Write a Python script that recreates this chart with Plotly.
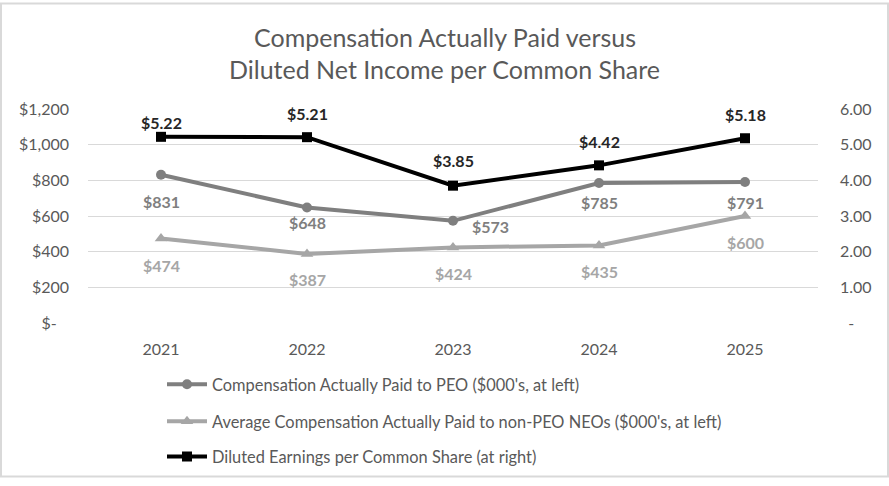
import plotly.graph_objects as go

years = ["2021", "2022", "2023", "2024", "2025"]
peo_cap = [831, 648, 573, 785, 791]
neo_cap = [474, 387, 424, 435, 600]
eps = [5.22, 5.21, 3.85, 4.42, 5.18]

left_ticks = [0, 200, 400, 600, 800, 1000, 1200]
left_text = ["$-   ", "$200", "$400", "$600", "$800", "$1,000", "$1,200"]
right_ticks = [0, 1, 2, 3, 4, 5, 6]
right_text = ["  -", "1.00", "2.00", "3.00", "4.00", "5.00", "6.00"]

# label offsets (pixels) as placed in the reference
eps_shift = [14, 24, 25, 24, 24]
peo_shift = [-27, -15, -6, -19, -21]
peo_xshift = [0, 0, 37, 0, 0]
neo_shift = [-27, -26, -26, -26, -26]

FONT = "Lato, Calibri, sans-serif"
C_PEO = "#7f7f7f"
C_NEO = "#a6a6a6"
C_EPS = "#000000"
C_TXT = "#595959"

fig = go.Figure()
fig.add_trace(go.Scatter(
    x=years, y=peo_cap, mode="lines+markers", name="Compensation Actually Paid to PEO ($000's, at left)",
    line=dict(color=C_PEO, width=4), marker=dict(symbol="circle", size=10, color=C_PEO),
    legend="legend"))
fig.add_trace(go.Scatter(
    x=years, y=neo_cap, mode="lines+markers",
    name="Average Compensation Actually Paid to non-PEO NEOs ($000's, at left)",
    line=dict(color=C_NEO, width=4), marker=dict(symbol="triangle-up", size=11, color=C_NEO),
    legend="legend2"))
fig.add_trace(go.Scatter(
    x=years, y=eps, mode="lines+markers", name="Diluted Earnings per Common Share (at right)",
    line=dict(color=C_EPS, width=4), marker=dict(symbol="square", size=10, color=C_EPS),
    yaxis="y2", legend="legend3"))

ann = []
for i, y in enumerate(years):
    ann.append(dict(x=i, xref="x", y=eps[i], yref="y2", text="<b>$%.2f</b>" % eps[i], showarrow=False,
                    yshift=eps_shift[i], font=dict(size=16, color="#262626", family=FONT)))
    ann.append(dict(x=i, xref="x", y=peo_cap[i], yref="y", text="<b>$%d</b>" % peo_cap[i], showarrow=False,
                    yshift=peo_shift[i], xshift=peo_xshift[i], font=dict(size=16, color=C_PEO, family=FONT)))
    ann.append(dict(x=i, xref="x", y=neo_cap[i], yref="y", text="<b>$%d</b>" % neo_cap[i], showarrow=False,
                    yshift=neo_shift[i], font=dict(size=16, color=C_NEO, family=FONT)))

W, H = 889, 486
L, R, T, B = 88, 71, 109, 158
pw, ph = W - L - R, H - T - B

def px(x):
    return (x - L) / pw

def py(y):
    return (H - B - y) / ph

for ty, tt in [(35, "Compensation Actually Paid versus"), (68, "Diluted Net Income per Common Share")]:
    ann.append(dict(xref="paper", yref="paper", x=px(444.5), y=py(ty), xanchor="center", yanchor="middle",
                    text=tt, showarrow=False, font=dict(size=25, color=C_TXT, family=FONT)))

legfont = dict(size=16.4, color=C_TXT, family=FONT)
def leg(ycen):
    return dict(x=px(162), y=py(ycen), xanchor="left", yanchor="middle", font=legfont,
                bgcolor="rgba(0,0,0,0)", itemwidth=40)

fig.update_layout(
    width=W, height=H, margin=dict(l=L, r=R, t=T, b=B),
    paper_bgcolor="white", plot_bgcolor="white",
    font=dict(family=FONT, color=C_TXT, size=16),
    showlegend=True,
    legend=leg(391), legend2=leg(429), legend3=leg(465),
    xaxis=dict(type="category", showgrid=False, showline=False, zeroline=False, ticks="",
               tickfont=dict(size=16, color=C_TXT), range=[-0.5, 4.5], ticklabelstandoff=15),
    yaxis=dict(range=[0, 1200], tickvals=left_ticks, ticktext=left_text, showgrid=True,
               gridcolor="#d9d9d9", gridwidth=1, zeroline=False, showline=False,
               tickfont=dict(size=16, color=C_TXT), ticklabelstandoff=18),
    yaxis2=dict(range=[0, 6], tickvals=right_ticks, ticktext=right_text, overlaying="y", side="right",
                showgrid=False, zeroline=False, showline=False,
                tickfont=dict(size=16, color=C_TXT), ticklabelstandoff=21),
    annotations=ann,
    shapes=[dict(type="rect", xref="paper", yref="paper", x0=px(1), x1=px(888), y0=py(485), y1=py(1),
                 line=dict(color="#d9d9d9", width=2), fillcolor="rgba(0,0,0,0)", layer="below")],
)

fig.write_html("out.html")
